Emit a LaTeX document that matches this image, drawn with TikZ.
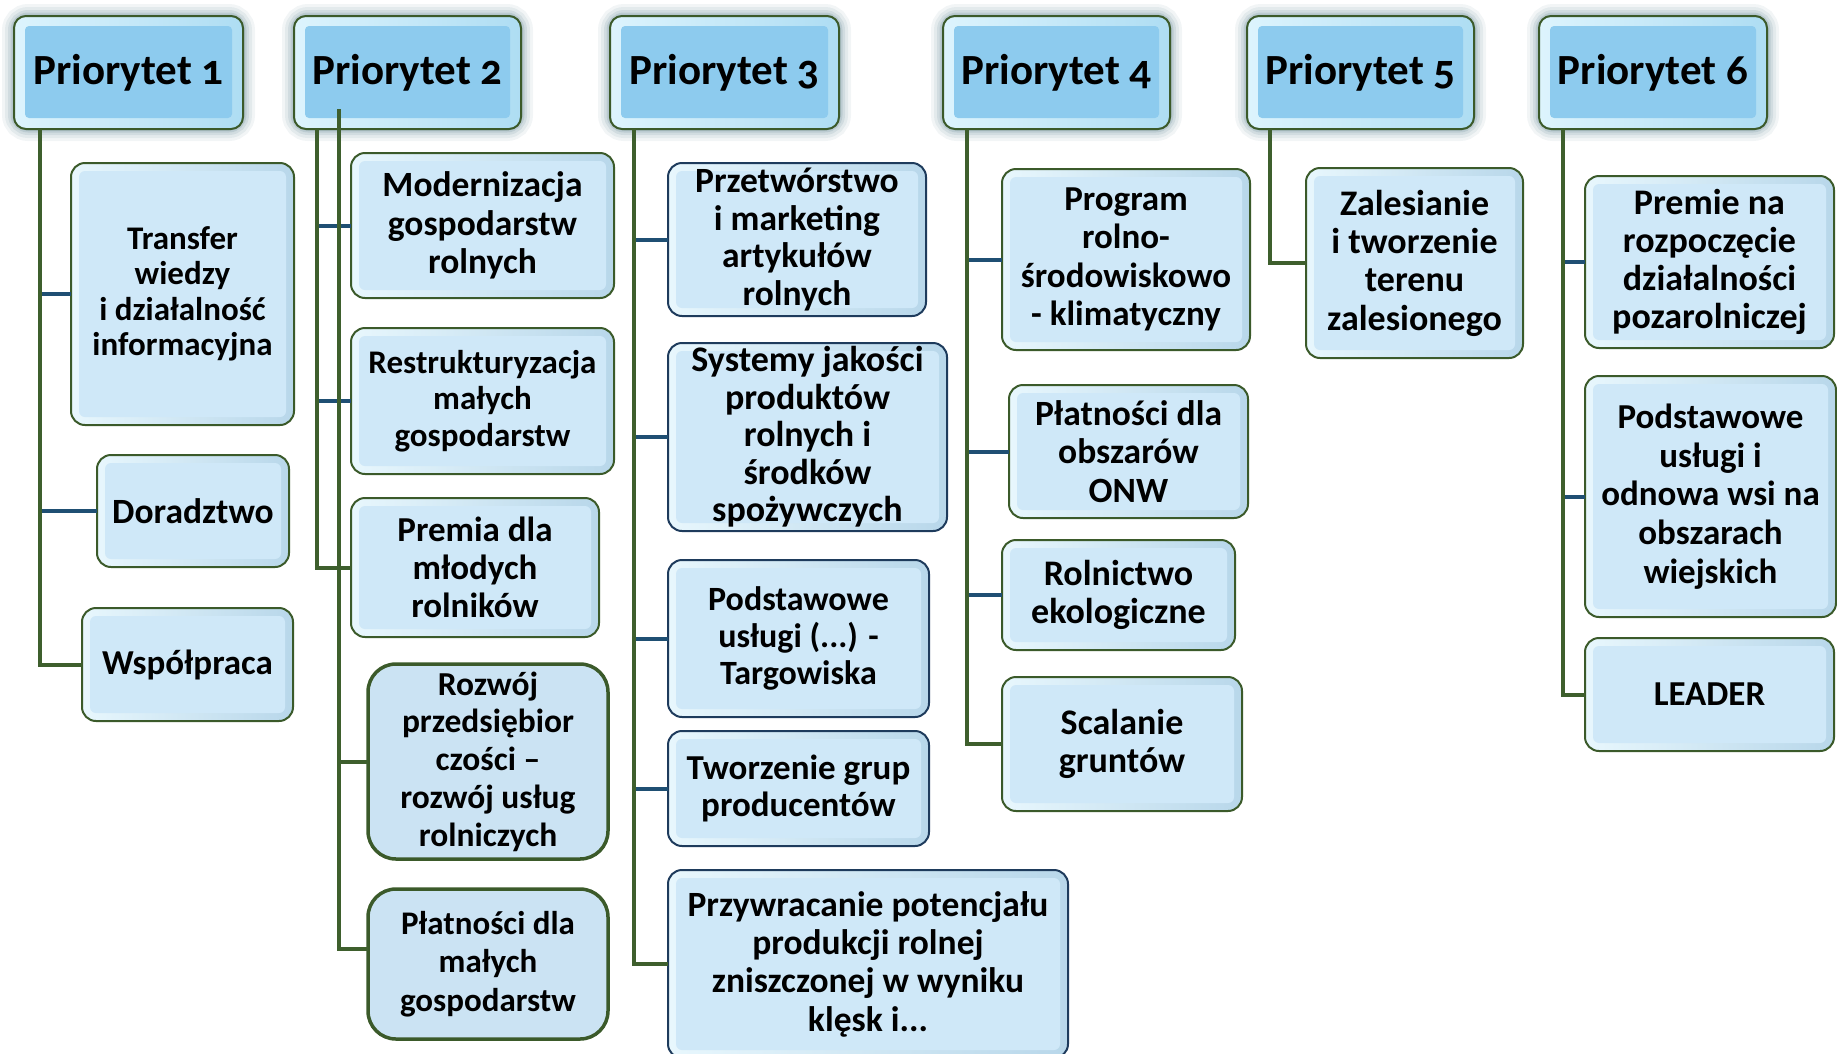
\documentclass[tikz,border=0pt]{standalone}
\usepackage{fontspec}
\setmainfont{Carlito}
\newfontfamily\hdrfont[Numbers=OldStyle]{Carlito}
\usetikzlibrary{calc}
\pgfdeclarelayer{bg}
\pgfsetlayers{bg,main}
\definecolor{trunkc}{HTML}{3E5F2D}
\definecolor{stubc}{HTML}{1F4F73}
\definecolor{bordg}{HTML}{3B5A2A}
\definecolor{bordn}{HTML}{1E3B5C}
\definecolor{hdrin}{HTML}{8DCBEE}
\definecolor{hdrrimL}{HTML}{DDF4FD}
\definecolor{hdrrimR}{HTML}{AEDDF3}
\definecolor{chin}{HTML}{CFE8F8}
\definecolor{chrimL}{HTML}{E8F7FD}
\definecolor{chrimR}{HTML}{B8D7EA}
\definecolor{flatc}{HTML}{CBE3F3}
\definecolor{glowc}{HTML}{4A7584}
\tikzset{
  basebox/.style={inner sep=0pt, outer sep=0pt, align=center, text=black},
  hdrbox/.style={basebox, draw=bordg, line width=2pt, rounded corners=12pt,
    left color=hdrrimL, right color=hdrrimR,
    path picture={\fill[hdrin, rounded corners=4pt]
      ([shift={(11pt,-10pt)}]path picture bounding box.north west) rectangle
      ([shift={(-11pt,11pt)}]path picture bounding box.south east);}},
  chbox/.style={basebox, draw=#1, line width=2pt, rounded corners=14pt,
    left color=chrimL, right color=chrimR,
    path picture={\fill[chin, rounded corners=6pt]
      ([shift={(8pt,-8pt)}]path picture bounding box.north west) rectangle
      ([shift={(-8pt,8pt)}]path picture bounding box.south east);}},
  gbox/.style={chbox=bordg},
  nbox/.style={chbox=bordn},
  flatbox/.style={basebox, draw=bordg, line width=3.5pt, rounded corners=28pt, fill=flatc},
  trunk/.style={draw=trunkc, line width=4pt},
  stub/.style={draw=stubc, line width=4pt},
}
% name, x1, y1, x2, y2, style, fontsize, baselineskip, text
\newcommand\bx[9]{\node[#6, minimum width={(#4-#2)*1pt}, minimum height={(#5-#3)*1pt},
  font=\bfseries\fontsize{#7}{#8}\selectfont] (#1) at ({(#2+#4)/2},{(#3+#5)/2}) {#9};}
\newcommand\glowbox[1]{\begin{pgfonlayer}{bg}
  \foreach \lw/\op in {24/0.07,18/0.09,12/0.12,7/0.16,3/0.2}{
    \draw[glowc, line width=\lw pt, opacity=\op, rounded corners=14pt]
      (#1.north west) rectangle (#1.south east);}
  \end{pgfonlayer}}
\begin{document}
\begin{tikzpicture}[x=1pt, y=-1pt]
\useasboundingbox (0,0) rectangle (1837,1053);
% headers
\bx{h1}{14}{16}{243}{129}{hdrbox}{43}{46}{\hdrfont Priorytet 1}
\bx{h2}{294}{16}{521}{129}{hdrbox}{43}{46}{\hdrfont Priorytet 2}
\bx{h3}{610}{16}{839}{129}{hdrbox}{43}{46}{\hdrfont Priorytet 3}
\bx{h4}{943}{16}{1170}{129}{hdrbox}{43}{46}{\hdrfont Priorytet 4}
\bx{h5}{1247}{16}{1474}{129}{hdrbox}{43}{46}{\hdrfont Priorytet 5}
\bx{h6}{1539}{16}{1767}{129}{hdrbox}{43}{46}{\hdrfont Priorytet 6}
\glowbox{h1}\glowbox{h2}\glowbox{h3}\glowbox{h4}\glowbox{h5}\glowbox{h6}
% priority 1
\bx{c11}{71}{163}{294}{425}{gbox}{33}{35.5}{Transfer\\wiedzy\\i działalność\\informacyjna}
\bx{c12}{97}{455}{289}{567}{gbox}{35.5}{38.3}{Doradztwo}
\bx{c13}{82}{608}{293}{721}{gbox}{35}{38.3}{Współpraca}
% priority 2
\bx{c21}{351}{153}{614}{298}{gbox}{35.5}{38.3}{Modernizacja\\gospodarstw\\rolnych}
\bx{c22}{351}{328}{614}{474}{gbox}{33}{36.5}{Restrukturyzacja\\małych\\gospodarstw}
\bx{c23}{351}{498}{599}{637}{gbox}{35}{38.3}{Premia dla\\młodych\\rolników}
\bx{c24}{368}{664}{608}{859}{flatbox}{33.5}{37.8}{Rozwój\\przedsiębior\\czości --\\rozwój usług\\rolniczych}
\bx{c25}{368}{889}{608}{1039}{flatbox}{33}{38.3}{Płatności dla\\małych\\gospodarstw}
% priority 3
\bx{c31}{668}{163}{926}{316}{nbox}{35.5}{37.8}{Przetwórstwo\\i marketing\\artykułów\\rolnych}
\bx{c32}{668}{343}{947}{531}{nbox}{36}{37.5}{Systemy jakości\\produktów\\rolnych i\\środków\\spożywczych}
\bx{c33}{668}{560}{929}{717}{nbox}{34}{37}{Podstawowe\\usługi (...) -\\Targowiska}
\bx{c34}{668}{731}{929}{846}{nbox}{35}{37.5}{Tworzenie grup\\producentów}
\bx{c35}{668}{870}{1068}{1058}{nbox}{35.5}{38.3}{Przywracanie potencjału\\produkcji rolnej\\zniszczonej w wyniku\\klęsk i...}
% priority 4
\bx{c41}{1002}{169}{1250}{350}{gbox}{35}{38.3}{Program\\rolno-\\środowiskowo\\- klimatyczny}
\bx{c42}{1009}{385}{1248}{518}{gbox}{35.5}{38.3}{Płatności dla\\obszarów\\ONW}
\bx{c43}{1002}{540}{1235}{650}{gbox}{36}{38.3}{Rolnictwo\\ekologiczne}
\bx{c44}{1002}{677}{1242}{811}{gbox}{36}{38.3}{Scalanie\\gruntów}
% priority 5
\bx{c51}{1306}{168}{1523}{358}{gbox}{36}{38.3}{Zalesianie\\i tworzenie\\terenu\\zalesionego}
% priority 6
\bx{c61}{1585}{176}{1834}{348}{gbox}{36}{38}{Premie na\\rozpoczęcie\\działalności\\pozarolniczej}
\bx{c62}{1585}{376}{1836}{617}{gbox}{35}{38.7}{Podstawowe\\usługi i\\odnowa wsi na\\obszarach\\wiejskich}
\bx{c63}{1585}{638}{1834}{751}{gbox}{35}{38.3}{LEADER}
% trunk start points
\coordinate (t1) at ([xshift=26pt]h1.south west);
\coordinate (t2a) at ([xshift=23pt]h2.south west);
\coordinate (t2b) at ([xshift=45pt,yshift=20pt]h2.south west);
\coordinate (t3) at ([xshift=24pt]h3.south west);
\coordinate (t4) at ([xshift=24pt]h4.south west);
\coordinate (t5) at ([xshift=23pt]h5.south west);
\coordinate (t6) at ([xshift=24pt]h6.south west);
% stubs
\draw[stub] (c11.west) -- (c11.west -| t1);
\draw[stub] (c12.west) -- (c12.west -| t1);
\draw[stub] (c21.west) -- (c21.west -| t2a);
\draw[stub] (c22.west) -- (c22.west -| t2a);
\draw[stub] (c31.west) -- (c31.west -| t3);
\draw[stub] (c32.west) -- (c32.west -| t3);
\draw[stub] (c33.west) -- (c33.west -| t3);
\draw[stub] (c34.west) -- (c34.west -| t3);
\draw[stub] (c41.west) -- (c41.west -| t4);
\draw[stub] (c42.west) -- (c42.west -| t4);
\draw[stub] (c43.west) -- (c43.west -| t4);
\draw[stub] (c61.west) -- (c61.west -| t6);
\draw[stub] (c62.west) -- (c62.west -| t6);
% trunks
\draw[trunk] (t1) |- (c13.west);
\draw[trunk] (t2a) |- (c23.west);
\draw[trunk] (c24.west) -- (c24.west -| t2b);
\draw[trunk] (t2b) |- ([yshift=15pt]c25.west);
\draw[trunk] (t3) |- (c35.west);
\draw[trunk] (t4) |- (c44.west);
\draw[trunk] (t5) |- (c51.west);
\draw[trunk] (t6) |- (c63.west);
\end{tikzpicture}
\end{document}
